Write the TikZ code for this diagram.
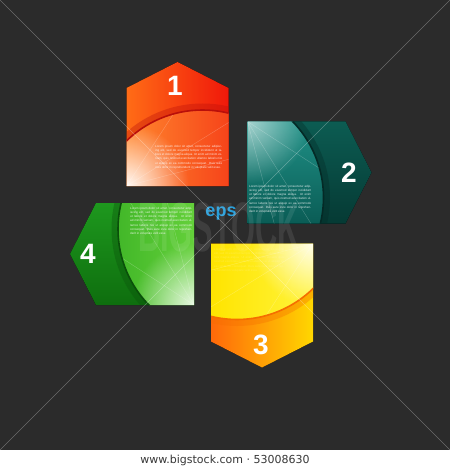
\documentclass[tikz,border=0pt]{standalone}
\usepackage{fontspec}
\setmainfont{Liberation Sans}
\newfontfamily\footfont{DejaVu Sans}
\usetikzlibrary{fadings}
\tikzfading[name=glowfade, inner color=transparent!0, outer color=transparent!100]
\definecolor{bg}{RGB}{43,43,43}
\definecolor{oneL}{RGB}{255,108,22}
\definecolor{oneR}{RGB}{240,24,10}
\definecolor{oneiL}{RGB}{255,135,45}
\definecolor{oneiR}{RGB}{246,68,26}
\definecolor{oneRim}{RGB}{185,15,10}
\definecolor{twoT}{RGB}{12,92,82}
\definecolor{twoB}{RGB}{5,58,52}
\definecolor{twoiT}{RGB}{32,145,135}
\definecolor{twoiB}{RGB}{10,92,85}
\definecolor{twoRim}{RGB}{4,42,38}
\definecolor{threeL}{RGB}{255,105,10}
\definecolor{threeR}{RGB}{255,215,0}
\definecolor{threeiL}{RGB}{255,228,0}
\definecolor{threeiR}{RGB}{255,244,60}
\definecolor{threeRim}{RGB}{245,110,0}
\definecolor{fourT}{RGB}{30,152,30}
\definecolor{fourB}{RGB}{14,110,14}
\definecolor{fouriL}{RGB}{45,168,30}
\definecolor{fouriR}{RGB}{100,208,58}
\definecolor{fourRim}{RGB}{10,80,10}
\definecolor{epsblue}{RGB}{38,158,218}
\definecolor{footgray}{RGB}{55,55,55}
\newcommand{\loremtext}{Lorem ipsum dolor sit amet, consectetur adipiscing elit, sed do eiusmod tempor incididunt ut labore et dolore magna aliqua. Ut enim ad minim veniam, quis nostrud exercitation ullamco laboris nisi ut aliquip ex ea commodo consequat. Duis aute irure dolor in reprehenderit in voluptate velit esse.}
\newcommand{\geomshape}[4]{%
  \begin{scope}[shift={(#2,#3)}, rotate=#4]
    \coordinate (#1bl) at (-51,49);
    \coordinate (#1tl) at (-51,-49);
    \coordinate (#1ap) at (0,-75);
    \coordinate (#1tr) at (51,-49);
    \coordinate (#1br) at (51,49);
    \coordinate (#1cc) at (25,82);
    \coordinate (#1ra) at (60,-20);
    \coordinate (#1rb) at (20,-60);
    \coordinate (#1rc) at (60,20);
  \end{scope}}
\newcommand{\paintshape}[5]{%
  \fill[#2] (#1bl) -- (#1tl) -- (#1ap) -- (#1tr) -- (#1br) -- cycle;
  \begin{scope}
    \clip (#1bl) -- (#1tl) -- (#1ap) -- (#1tr) -- (#1br) -- cycle;
    \draw[#4, line width=7pt, opacity=0.35] (#1cc) circle (112);
    \begin{scope}
      \clip (#1cc) circle (109);
      \fill[#3] (#1bl) -- (#1tl) -- (#1ap) -- (#1tr) -- (#1br) -- cycle;
      \fill[white, path fading=glowfade, fill opacity=#5] (#1bl) circle (62);
      \draw[white, opacity=0.25, line width=0.4pt] (#1bl) -- (#1ra) (#1bl) -- (#1rb) (#1bl) -- (#1rc);
    \end{scope}
    \draw[#4, line width=1.6pt] (#1cc) circle (109);
  \end{scope}}
\tikzset{
  tinytext/.style={text width=#1, align=justify, font=\fontsize{3}{4.2}\selectfont, inner sep=0pt, text=white, anchor=north west},
  numlabel/.style={text=white, font=\fontsize{28}{28}\selectfont\bfseries, inner sep=0pt},
  wmline/.style={white, opacity=0.3, line width=0.6pt}
}
\begin{document}
\begin{tikzpicture}[x=1pt, y=-1pt]
\useasboundingbox (0,0) rectangle (450,470);
\fill[bg] (0,0) rectangle (450,450);
\fill[white] (0,450) rectangle (450,470);

\geomshape{s1}{177.5}{137}{0}
\geomshape{s2}{296.5}{172.5}{-90}
\geomshape{s3}{262}{292.5}{180}
\geomshape{s4}{145}{254}{90}

\paintshape{s1}{left color=oneL, right color=oneR}{left color=oneiL, right color=oneiR}{oneRim}{0.95}
\paintshape{s2}{top color=twoT, bottom color=twoB}{top color=twoiT, bottom color=twoiB}{twoRim}{0.6}
\paintshape{s3}{left color=threeL, right color=threeR}{left color=threeiL, right color=threeiR}{threeRim}{0.9}
\paintshape{s4}{top color=fourT, bottom color=fourB}{left color=fouriL, right color=fouriR}{fourRim}{0.85}

\node[tinytext=67pt, opacity=0.85] (t1) at (155,145) {\loremtext};
\node[tinytext=62pt, opacity=0.85] (t2) at (249,185) {\loremtext};
\node[tinytext=70pt, opacity=0.2] (t3) at (214,248) {\loremtext};
\node[tinytext=62pt, opacity=0.85] (t4) at (130,207) {\loremtext};

\node[numlabel] (n1) at (175,86) {1};
\node[numlabel] (n2) at (349,173) {2};
\node[numlabel] (n3) at (261,345) {3};
\node[numlabel] (n4) at (88,254) {4};

\node[text=epsblue, font=\fontsize{18}{18}\selectfont\bfseries, inner sep=0pt] (eps) at (221,214) {eps};

% watermark
\coordinate (wc) at (225,225);
\coordinate (w1) at (0,0);
\coordinate (w2) at (450,0);
\coordinate (w3) at (0,450);
\coordinate (w4) at (450,450);
\draw[wmline] (w1) -- (wc) (w2) -- (wc) (w3) -- (wc) (w4) -- (wc);
\node[text=white, opacity=0.09, font=\fontsize{70}{70}\selectfont\bfseries, xscale=0.44, inner sep=0pt] (wm) at (219,227) {BIGSTOCK};

\node[text=footgray, font=\footfont\fontsize{11}{11}\selectfont, inner sep=0pt] (foot) at (225,460) {www.bigstock.com · 53008630};
\end{tikzpicture}
\end{document}
